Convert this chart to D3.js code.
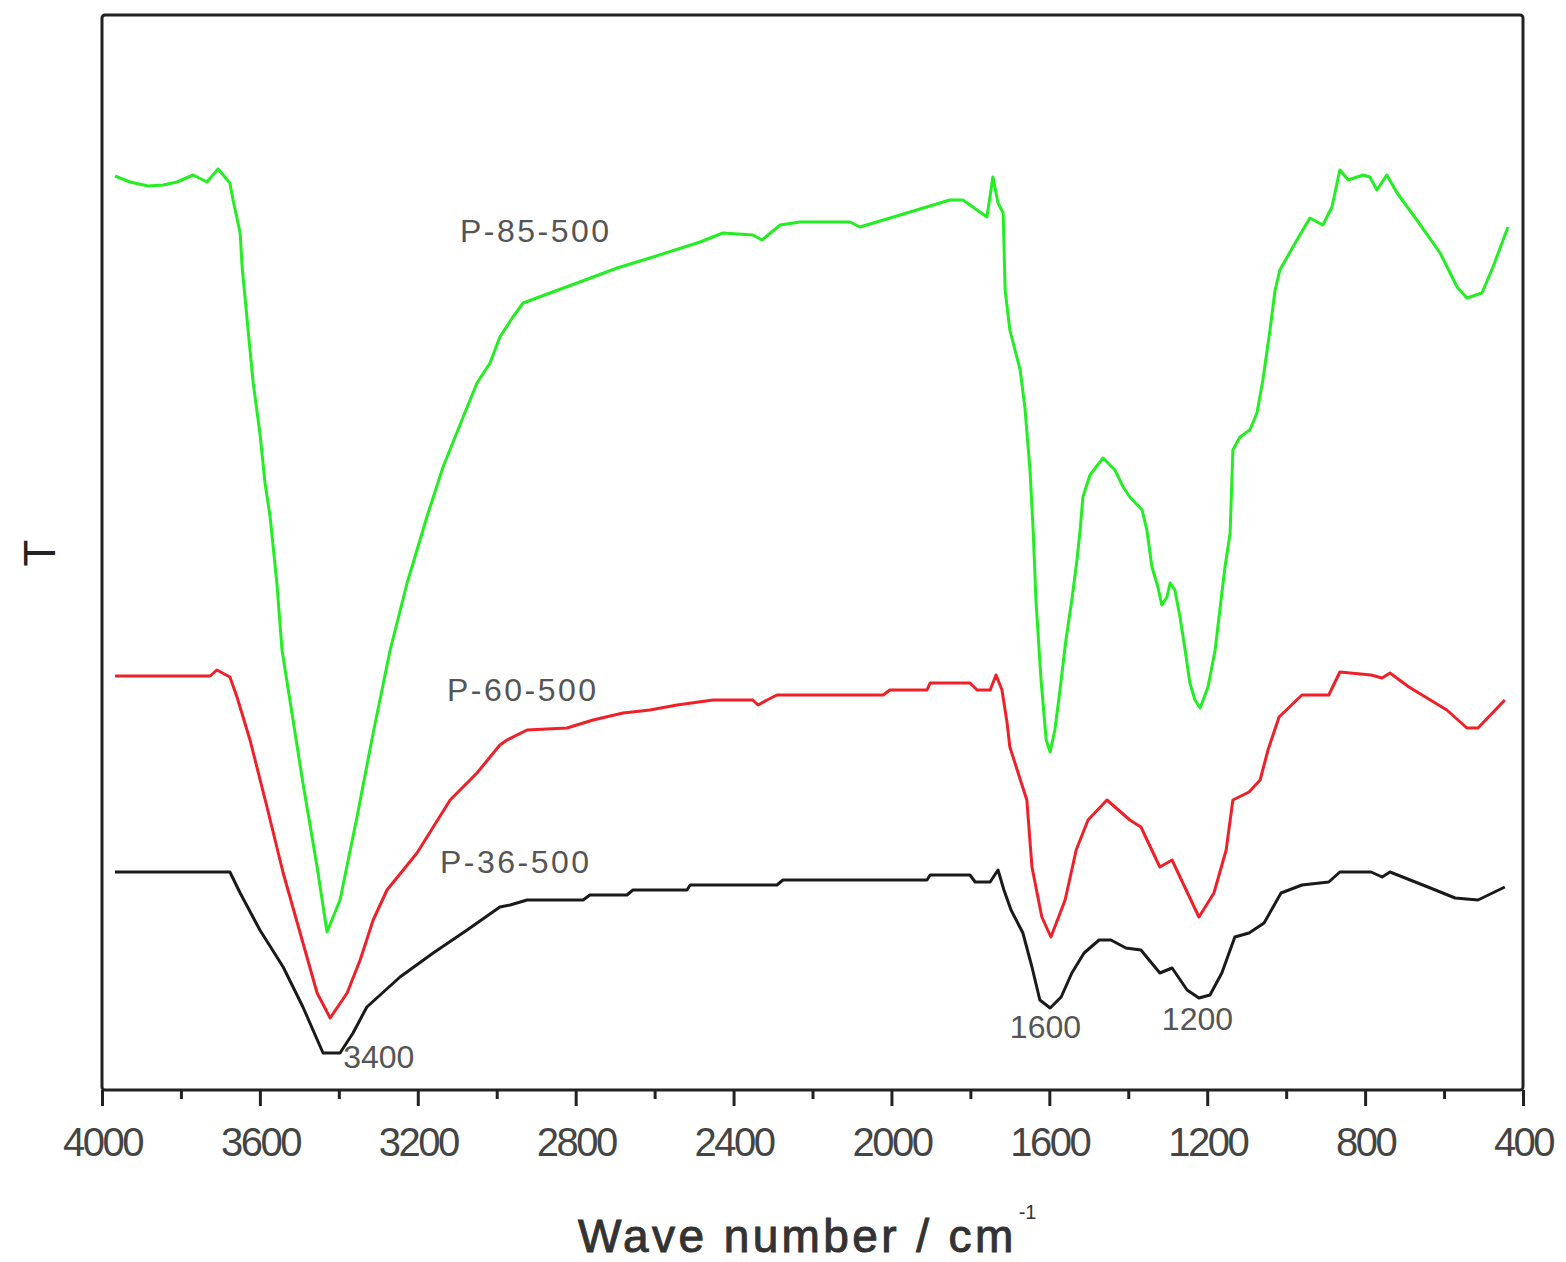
<!DOCTYPE html>
<html>
<head>
<meta charset="utf-8">
<script src="https://cdn.jsdelivr.net/npm/d3@7"></script>
<style>
  body { margin: 0; background: #fff; }
  svg { display: block; font-family: Arial, "Liberation Sans", sans-serif; }
</style>
</head>
<body>
<div class="container"></div>
<script>
// FTIR spectra, transmittance in arbitrary units
const p85Wave = [3967,3929,3883,3845,3810,3769,3734,3706,3676,3668,3650,3645,3633,3617,3600,3587,3574,3557,3544,3524,
  3491,3455,3430,3397,3354,3313,3270,3227,3177,3136,3085,3050,3017,2992,2959,2933,2865,2776,2695,2612,
  2485,2427,2351,2328,2282,2232,2105,2080,1978,1852,1819,1758,1743,1730,1717,1712,1700,1674,1662,1649,
  1641,1634,1621,1608,1598,1586,1573,1558,1543,1530,1522,1515,1497,1464,1434,1413,1396,1365,1353,1340,
  1325,1315,1302,1294,1282,1269,1256,1244,1231,1218,1198,1180,1168,1155,1142,1135,1117,1092,1074,1059,
  1041,1028,1016,983,940,907,884,864,843,805,788,770,745,719,669,610,567,542,504,476,438];
const p85T = [91.4,90.8,90.4,90.5,90.8,91.5,90.8,92.1,90.7,89.0,85.7,82.3,77.3,70.7,65.7,60.7,57.3,50.7,44.0,39.0,
  30.7,22.3,15.8,19.0,27.3,35.7,44.0,50.7,57.3,62.3,67.3,70.7,72.7,75.3,77.3,78.7,79.7,81.0,82.2,83.2,
  84.8,85.7,85.5,85.0,86.5,86.8,86.8,86.3,87.5,89.0,89.0,87.3,91.3,88.7,87.7,80.0,76.0,72.0,68.3,62.0,
  56.0,49.0,41.0,35.0,33.8,36.0,40.0,45.0,49.0,53.0,56.0,59.3,61.5,63.2,62.0,60.3,59.3,58.0,56.0,52.3,
  50.3,48.5,49.3,50.7,50.0,47.3,44.0,40.7,39.0,38.2,40.3,44.0,48.0,52.3,55.7,64.0,65.3,66.0,67.7,71.0,
  76.0,80.0,82.0,84.3,87.2,86.5,88.3,92.0,91.0,91.5,91.3,90.0,91.5,89.7,87.0,83.7,80.3,79.2,79.7,82.3,86.3];

const p60Wave = [3967,3726,3709,3676,3658,3625,3582,3541,3498,3455,3422,3379,3346,3313,3278,3202,3118,3050,2992,2974,
  2923,2822,2756,2680,2612,2543,2452,2351,2338,2315,2290,2021,2004,1910,1902,1801,1783,1750,1735,1720,
  1707,1700,1679,1657,1644,1619,1596,1560,1532,1502,1454,1396,1368,1320,1289,1269,1221,1183,1152,1135,
  1094,1066,1046,1018,960,892,864,785,757,737,689,593,542,514,446];
const p60T = [41.4,41.4,42.0,41.3,39.3,35.0,28.3,21.7,15.7,9.7,7.2,9.7,13.0,17.0,20.0,23.7,29.0,31.7,34.5,35.0,
  36.0,36.2,37.0,37.7,38.0,38.5,39.0,39.0,38.5,39.0,39.5,39.5,40.0,40.0,40.7,40.7,40.0,40.0,41.5,40.0,
  36.7,34.3,31.7,29.0,22.3,17.3,15.3,19.0,24.0,27.0,29.0,27.0,26.3,22.3,23.0,21.3,17.3,19.7,24.0,29.0,
  29.8,31.0,34.0,37.3,39.5,39.5,41.8,41.5,41.2,41.7,40.3,38.0,36.2,36.2,39.0];

const p36Wave = [3967,3676,3650,3600,3541,3491,3440,3397,3364,3329,3245,3161,3075,2992,2966,2923,2781,2764,2670,2655,
  2518,2510,2290,2275,1910,1902,1801,1788,1750,1730,1715,1697,1667,1644,1624,1598,1570,1543,1512,1474,
  1444,1406,1368,1320,1289,1251,1221,1193,1163,1130,1094,1056,1013,960,892,864,785,757,737,641,
  572,514,446];
const p36T = [21.8,21.8,19.7,16.0,12.3,8.3,3.7,3.7,5.7,8.3,11.3,13.7,16.0,18.3,18.5,19.0,19.0,19.5,19.5,20.0,
  20.0,20.5,20.5,21.0,21.0,21.5,21.5,20.8,20.8,22.0,20.0,18.0,15.7,12.3,9.0,8.2,9.3,11.7,13.7,15.0,
  15.0,14.2,14.0,11.7,12.2,10.0,9.2,9.5,11.7,15.3,15.7,16.7,19.7,20.5,20.8,21.8,21.8,21.3,21.8,20.3,
  19.2,19.0,20.3];

const majorTicks = [4000,3600,3200,2800,2400,2000,1600,1200,800,400];
const minorTicks = [3800,3400,3000,2600,2200,1800,1400,1000,600];

const labelText = ["P-85-500","P-60-500","P-36-500","3400","1600","1200"];
const labelWave = [3093,3126,3144,3389,1700,1315];
const labelT = [84.8,38.9,21.7,2.2,5.2,6.0];
const labelSpacing = [2.5,2.5,2.5,0,0,0];

const width = 1566;
const height = 1262;
const margin = {top: 15, right: 43, bottom: 172, left: 102};

const svg = d3.select(".container").append("svg").attr("width", width).attr("height", height);

const x = d3.scaleLinear().domain([4000, 400]).range([margin.left, width - margin.right]);
const y = d3.scaleLinear().domain([0, 107.5]).range([height - margin.bottom, margin.top]);

const series = [
  {wave: p85Wave, t: p85T, color: "#22ee22"},
  {wave: p60Wave, t: p60T, color: "#f02028"},
  {wave: p36Wave, t: p36T, color: "#1a1a1a"}
];

const line = d3.line()
    .x(d => x(d[0]))
    .y(d => y(d[1]));

svg.append("g")
    .selectAll("path")
    .data(series)
    .enter().append("path")
      .attr("d", s => line(s.wave.map((w, i) => [w, s.t[i]])))
      .attr("fill", "none")
      .attr("stroke", s => s.color)
      .attr("stroke-width", 3)
      .attr("stroke-linejoin", "round");

// bottom axis: major ticks with labels, minor ticks without
const bottom = height - margin.bottom;

svg.append("g")
    .attr("transform", `translate(0,${bottom})`)
    .call(d3.axisBottom(x).tickValues(minorTicks).tickSize(9).tickFormat(""))
    .call(g => g.select(".domain").remove())
    .call(g => g.selectAll("line").attr("stroke", "#222").attr("stroke-width", 3));

svg.append("g")
    .attr("transform", `translate(0,${bottom})`)
    .call(d3.axisBottom(x).tickValues(majorTicks).tickSize(16).tickPadding(22).tickFormat(d3.format("d")))
    .call(g => g.select(".domain").remove())
    .call(g => g.selectAll("line").attr("stroke", "#222").attr("stroke-width", 3))
    .call(g => g.selectAll("text")
        .attr("fill", "#444")
        .style("font-size", "40px")
        .style("letter-spacing", "-2.5px"));

// frame
svg.append("rect")
    .attr("x", margin.left)
    .attr("y", margin.top)
    .attr("width", width - margin.left - margin.right)
    .attr("height", height - margin.top - margin.bottom)
    .attr("rx", 3)
    .attr("fill", "none")
    .attr("stroke", "#222")
    .attr("stroke-width", 3);

// curve and peak labels
svg.append("g")
    .selectAll("text")
    .data(labelText)
    .enter().append("text")
      .attr("x", (d, i) => x(labelWave[i]))
      .attr("y", (d, i) => y(labelT[i]))
      .attr("fill", "#555")
      .style("font-size", "32px")
      .style("letter-spacing", (d, i) => labelSpacing[i] + "px")
      .text(d => d);

// axis titles
const title = svg.append("text")
    .attr("x", 578)
    .attr("y", 1252)
    .attr("fill", "#333")
    .attr("stroke", "#333")
    .attr("stroke-width", 1)
    .style("font-size", "46px")
    .style("letter-spacing", "3.4px");
title.append("tspan").text("Wave number / cm");
title.append("tspan").attr("dx", 2).attr("dy", -33).attr("stroke-width", 0)
    .style("font-size", "20px").style("letter-spacing", "0px").text("-1");

svg.append("text")
    .attr("transform", "translate(55,553) rotate(-90)")
    .attr("text-anchor", "middle")
    .attr("fill", "#222")
    .style("font-size", "44px")
    .text("T");
</script>
</body>
</html>
